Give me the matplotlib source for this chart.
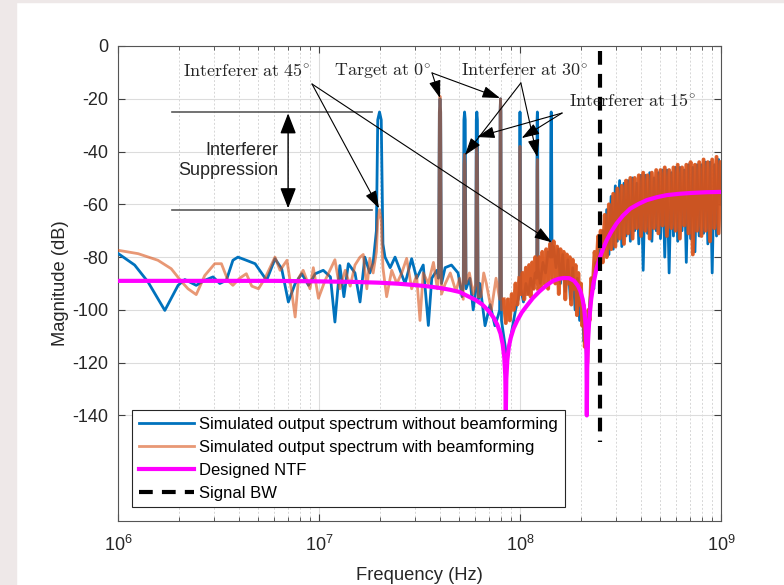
import numpy as np
import matplotlib
matplotlib.use("Agg")
import matplotlib.pyplot as plt
from matplotlib.patches import Rectangle

# %%
# Data (frequency in MHz, magnitude in dB)
# ------------------------------------------

# spectrum without beamforming, 1 MHz .. 250 MHz
blue_f = [1.0, 1.21, 1.41, 1.71, 1.99, 2.15, 2.45, 2.70, 2.97, 3.21,
          3.46, 3.73, 3.95, 4.35, 4.81, 5.49, 6.04, 6.52, 7.04, 7.61,
          8.21, 8.87, 9.58, 10.5, 11.4, 12.0, 12.7, 13.3, 14.0, 15.1,
          16.0, 16.9, 17.9, 18.6, 19.3, 19.6, 20.0, 20.4, 20.8, 21.3,
          22.6, 23.9, 25.3, 26.8, 28.9, 30.6, 33.0, 35.0, 36.4, 38.6,
          39.3, 39.7, 40.0, 40.3, 40.7, 42.4, 45.6, 49.2, 51.5, 52.2,
          52.6, 53.0, 53.4, 53.9, 56.3, 58.5, 60.2, 60.6, 61.0, 61.4,
          61.9, 63.1, 67, 71, 75, 78, 79.2, 79.6, 80.0, 80.4,
          80.9, 83, 86, 89, 92, 95, 98, 99.2, 99.6, 100.0,
          100.4, 100.9, 104, 107, 110, 113, 116, 119, 121.1, 121.6,
          122.0, 122.4, 122.9, 126, 130, 134, 138, 141.5, 142.5, 143.0,
          143.5, 144.3, 147, 151, 155, 159, 163, 168, 173, 178,
          183, 188, 193, 198, 203, 208, 212, 215, 219, 223,
          228, 233, 238, 244, 250]
blue_db = [-78.6, -83, -89.4, -100.2, -90.7, -88.5, -90.7, -88.8, -87.5, -90,
           -88.8, -81.2, -80, -81.2, -82.5, -88.8, -80.6, -84.4, -97, -90,
           -86.3, -90.7, -86.3, -85, -87.5, -104.6, -83.2, -95, -82.5, -86,
           -97, -80, -86, -82, -70, -28, -25, -28, -75, -80,
           -84, -80, -85, -90, -80.6, -88, -83, -105.9, -88, -85,
           -88, -25, -20, -25, -90, -84, -83, -86, -95, -90,
           -28, -25, -28, -92, -88, -100, -92, -28, -25, -28,
           -96, -90, -106, -98, -106, -102, -100, -25, -20, -25,
           -104, -110, -118, -112, -106, -100, -96, -92, -28, -25,
           -28, -92, -97, -90, -94, -88, -92, -86, -88, -28,
           -25, -28, -84, -90, -82, -86, -78, -80, -28, -25,
           -28, -80, -76, -84, -77, -90, -79, -93, -81, -96,
           -84, -100, -88, -104, -96, -112, -108, -122, -104, -96,
           -88, -92, -82, -84, -74]

# spectrum with beamforming, 1 MHz .. 250 MHz
orange_f = [1.0, 1.26, 1.58, 1.84, 2.07, 2.23, 2.45, 2.70, 3.03, 3.27,
            3.53, 3.73, 4.03, 4.35, 4.63, 5.0, 5.39, 6.04, 6.4, 6.93,
            7.37, 7.61, 7.91, 8.34, 9.02, 9.37, 9.94, 10.7, 12.0, 12.7,
            13.5, 14.3, 15.1, 16.0, 16.6, 17.3, 17.9, 18.6, 19.3, 19.6,
            20.0, 20.4, 20.8, 21.7, 23.0, 24.4, 25.8, 27.3, 28.9, 30.6,
            31.8, 33.0, 35.0, 37.1, 38.8, 39.3, 39.7, 40.0, 40.3, 40.7,
            42.5, 45, 48, 50, 52.2, 52.6, 53, 53.4, 53.9, 56,
            58.5, 60.2, 60.6, 61, 61.4, 61.9, 64, 66, 68, 72,
            76, 79.2, 79.6, 80, 80.4, 80.9, 83, 85, 87, 89,
            91, 93, 95, 97, 99.2, 99.6, 100, 100.4, 100.9, 103,
            105, 107, 109, 111, 113, 115, 117, 119, 121.1, 121.6,
            122, 122.4, 122.9, 125, 127, 129, 132, 135, 138, 141,
            144, 147, 150, 153, 156, 159, 162, 165, 168, 171,
            174, 177, 180, 183, 186, 189, 192, 195, 198, 201,
            204, 207, 210, 213, 216, 219, 222, 226, 230, 235,
            240, 245, 250]
orange_db = [-77.4, -78.7, -81.2, -84.4, -89.3, -92, -94.2, -87, -82.5, -82.5,
             -89, -90.7, -88, -86.3, -91, -92, -88, -80, -85, -81.2,
             -95, -102.7, -88, -85, -92, -84, -95.6, -89, -81, -92,
             -85, -91, -83, -80, -79, -92, -80.5, -86, -78, -66,
             -62, -66, -84, -95, -85, -90, -86, -80.5, -92, -87,
             -104, -86, -90, -82, -92, -88, -25, -19, -25, -94,
             -90, -86, -93, -88, -96, -45, -41, -45, -90, -86,
             -94, -90, -42, -38, -42, -95, -95, -86, -90, -100,
             -88, -96, -25, -20, -25, -100, -96, -105, -96, -104,
             -94, -100, -90, -98, -88, -42, -38, -42, -94, -86,
             -96, -84, -94, -83, -95, -82, -92, -80, -90, -47,
             -43, -47, -92, -80, -92, -78, -90, -77, -92, -75,
             -88, -74, -90, -76, -94, -77, -88, -78, -96, -79,
             -90, -80, -98, -81, -92, -83, -102, -86, -98, -90,
             -106, -98, -114, -108, -120, -100, -104, -88, -92, -78,
             -84, -72, -76]

# out-of-band part, both spectra share this grid
hf_mhz = [252, 258, 264, 270, 277, 284, 291, 298, 305, 313,
          321, 329, 337, 345, 354, 363, 372, 381, 390, 400,
          410, 420, 431, 442, 453, 464, 476, 488, 500, 512,
          525, 538, 552, 566, 580, 594, 609, 624, 640, 656,
          672, 689, 706, 724, 742, 760, 779, 799, 819, 839,
          860, 882, 904, 926, 950, 973, 997]
blue_hf_db = [-78, -70, -77, -62, -79, -57, -77, -53, -74, -51,
              -76, -52, -72, -51, -74, -50, -70, -52, -75, -49,
              -85, -49, -71, -48, -74, -50, -70, -48, -73, -47,
              -80, -47, -86, -48, -72, -46, -74, -46, -70, -47,
              -82, -45, -73, -46, -78, -45, -72, -45, -71, -44,
              -75, -44, -86, -45, -72, -43, -60]
orange_hf_db = [-70, -82, -64, -80, -60, -77, -56, -76, -54, -73,
                -53, -75, -51, -71, -50, -73, -50, -69, -49, -72,
                -48, -70, -49, -73, -48, -69, -47, -71, -47, -68,
                -46, -72, -47, -69, -46, -70, -45, -73, -46, -68,
                -45, -71, -44, -79, -45, -70, -44, -72, -43, -70,
                -44, -74, -43, -69, -42, -71, -44]

# designed NTF
ntf_f = [1, 3, 6, 10, 15, 20, 25, 30, 35, 40,
         45, 50, 55, 60, 65, 70, 74, 77, 80, 82,
         83.5, 84.5, 85, 85.5, 86.5, 88, 90, 93, 97, 102,
         108, 116, 125, 135, 146, 156, 166, 176, 186, 194,
         200, 205, 209, 212, 214, 215, 216, 218, 221, 226,
         232, 240, 250, 260, 270, 285, 302, 325, 354, 390,
         427, 480, 538, 620, 706, 850, 1000]
ntf_db = [-89, -89, -89, -89.2, -89.4, -89.7, -90.1, -90.6, -91.1, -91.7,
          -92.4, -93.2, -94.8, -96.2, -98, -100.5, -103, -105.5, -109, -113,
          -118, -125, -140, -126, -119, -114, -110.5, -107, -104, -101,
          -98.5, -95.5, -93, -90.8, -89, -88.2, -87.9, -88, -89, -90.8,
          -93, -96, -100, -106, -114, -140, -122, -112, -104, -96,
          -90, -84.5, -80, -76.5, -73.6, -70.3, -67.3, -64.3, -61.6, -59.8,
          -58.4, -57.3, -56.5, -56, -55.7, -55.4, -55.3]

signal_bw = 250e6

# %%
# Building the arrays
# ------------------------------------------
f_blue = np.array(blue_f + hf_mhz) * 1e6
m_blue = np.array(blue_db + blue_hf_db)
f_orange = np.array(orange_f + hf_mhz) * 1e6
m_orange = np.array(orange_db + orange_hf_db)
f_ntf = np.array(ntf_f) * 1e6
m_ntf = np.array(ntf_db)

# the dense part of the orange trace looks much more opaque in the original
dense = (f_orange >= 83e6) & ((m_orange < -60) | (f_orange > 240e6))
m_orange_dense = np.where(dense, m_orange, np.nan)

# %%
# Plot
# ------------------------------------------
plt.rcParams['font.family'] = ['Liberation Sans', 'DejaVu Sans']
plt.rcParams['mathtext.fontset'] = 'custom'
plt.rcParams['mathtext.rm'] = 'Liberation Sans'
plt.rcParams['axes.unicode_minus'] = False

fig = plt.figure(figsize=(7.84, 5.85), dpi=100)
fig.patches.append(Rectangle((0, 0), 16 / 784, 1, transform=fig.transFigure,
                             color='#eee8e8', zorder=-10))
fig.patches.append(Rectangle((0, 1 - 2 / 585), 1, 2 / 585, transform=fig.transFigure,
                             color='#eee8e8', zorder=-10))
ax = fig.add_axes([118 / 784, 64 / 585, 603 / 784, 475 / 585])

orange_c = '#D95319'
l1, = ax.plot(f_blue, m_blue, color='#0072BD', lw=2, zorder=3)
l2, = ax.plot(f_orange, m_orange, color=orange_c, lw=2, alpha=0.6, zorder=4)
ax.plot(f_orange, m_orange_dense, color=orange_c, lw=2.8, alpha=0.85, zorder=4)
l3, = ax.plot(f_ntf, m_ntf, color='#FF00FF', lw=3, zorder=5)
l4, = ax.plot([signal_bw, signal_bw], [-2, -150], color='black', lw=3,
              dashes=(3.3, 2.2), zorder=6)

ax.set_xscale('log')
ax.set_xlim(1e6, 1e9)
ax.set_ylim(-180, 0)
ax.set_yticks(np.arange(-140, 1, 20))
ax.set_yticklabels([str(v) for v in range(-140, 1, 20)])

ax.grid(True, which='major', color='#dcdcdc', lw=0.8, ls='-')
ax.grid(True, which='minor', axis='x', color='#d6d6d6', lw=0.7, ls=(0, (2, 2)))
ax.set_axisbelow(True)
ax.tick_params(which='both', direction='in', top=True, right=True,
               colors='#404040', labelcolor='#262626', labelsize=13)
ax.tick_params(axis='x', which='major', pad=10, length=5)
ax.tick_params(axis='x', which='minor', length=3)
ax.tick_params(axis='y', pad=7, length=5)
for s in ax.spines.values():
    s.set_color('#555555')
    s.set_linewidth(0.8)

ax.set_xlabel('Frequency (Hz)', fontsize=13.2, color='#262626', labelpad=9)
ax.set_ylabel('Magnitude (dB)', fontsize=13.2, color='#262626', labelpad=2)

leg = ax.legend([l1, l2, l3, l4],
                ['Simulated output spectrum without beamforming',
                 'Simulated output spectrum with beamforming',
                 'Designed NTF', 'Signal BW'],
                loc='lower left', bbox_to_anchor=(0.023, 0.029), borderaxespad=0,
                fontsize=12, handlelength=3.3, handletextpad=0.35,
                labelspacing=0.48, borderpad=0.4, fancybox=False,
                framealpha=1, edgecolor='#262626')
leg.get_frame().set_linewidth(0.8)
leg.set_zorder(10)

# %%
# Annotations
# ------------------------------------------
ann_kw = dict(fontsize=13, ha='center', va='center', color='#262626',
              math_fontfamily='cm', zorder=8)
ax.text(4.39e6, -9.5, r'$\mathrm{Interferer\ at\ 45^{\circ}}$', **ann_kw)
ax.text(2.08e7, -9.5, r'$\mathrm{Target\ at\ 0^{\circ}}$', **ann_kw)
ax.text(1.06e8, -9.5, r'$\mathrm{Interferer\ at\ 30^{\circ}}$', **ann_kw)
ax.text(3.65e8, -20.9, r'$\mathrm{Interferer\ at\ 15^{\circ}}$', **ann_kw)

arrow = dict(arrowstyle='-|>,head_length=0.9,head_width=0.3', color='black',
             lw=0.8, shrinkA=0, shrinkB=0, mutation_scale=12)
pointers = [
    ((9.23e6, -14.4), (1.99e7, -61.5)),
    ((9.23e6, -14.4), (1.44e8, -74.4)),
    ((3.65e7, -10.2), (4.0e7, -19.7)),
    ((3.65e7, -10.2), (7.95e7, -19.7)),
    ((1.01e8, -14.0), (5.32e7, -41.4)),
    ((1.01e8, -14.0), (1.22e8, -42.1)),
    ((1.62e8, -25.4), (6.11e7, -34.5)),
    ((1.62e8, -25.4), (1.02e8, -34.9)),
]
for tail, head in pointers:
    ax.annotate('', xy=head, xytext=tail, arrowprops=arrow, zorder=8)

# interferer suppression marker
ax.plot([1.86e6, 1.84e7], [-25, -25], color='#5a5a5a', lw=1.2, zorder=7)
ax.plot([1.86e6, 1.84e7], [-62, -62], color='#5a5a5a', lw=1.2, zorder=7)
ax.annotate('', xy=(7.02e6, -25.5), xytext=(7.02e6, -61.5),
            arrowprops=dict(arrowstyle='<|-|>,head_length=0.9,head_width=0.35',
                            color='black', lw=1.0, shrinkA=0, shrinkB=0,
                            mutation_scale=14), zorder=8)
ax.text(6.25e6, -43.3, 'Interferer\nSuppression', fontsize=13, ha='right',
        va='center', multialignment='right', color='#262626', linespacing=1.25,
        zorder=8)

fig.savefig('out.png', dpi=100)
